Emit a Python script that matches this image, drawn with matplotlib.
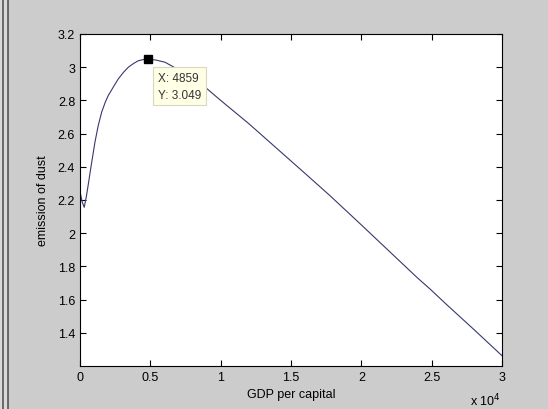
import numpy as np
import matplotlib
matplotlib.use("Agg")
import matplotlib.pyplot as plt
from matplotlib.lines import Line2D
from matplotlib.patches import Rectangle

# GDP per capita vs emission of dust
gdp = np.array([0, 150, 300, 450, 600, 800, 1066, 1300, 1543, 1800, 2014, 2400, 2725,
                3100, 3436, 3800, 4147, 4500, 4859, 5400, 6043, 7000, 8000, 8770,
                10000, 12000, 14000, 16000, 17773, 20000, 22000, 24000, 24882,
                26000, 28000, 30000])
dust = np.array([2.25, 2.19, 2.156, 2.22, 2.30, 2.41, 2.55, 2.65, 2.73, 2.79, 2.83,
                 2.885, 2.93, 2.97, 3.00, 3.022, 3.039, 3.046, 3.049, 3.043, 3.03,
                 2.985, 2.935, 2.889, 2.80, 2.66, 2.51, 2.36, 2.226, 2.05, 1.89,
                 1.73, 1.664, 1.575, 1.42, 1.262])

tip_x, tip_y = 4859, 3.049

xticks = [0, 5000, 10000, 15000, 20000, 25000, 30000]
xlabels = ["0", "0.5", "1", "1.5", "2", "2.5", "3"]
yticks = [1.4, 1.6, 1.8, 2.0, 2.2, 2.4, 2.6, 2.8, 3.0, 3.2]
ylabels = ["1.4", "1.6", "1.8", "2", "2.2", "2.4", "2.6", "2.8", "3", "3.2"]

plt.rcParams["font.family"] = ["Liberation Sans", "DejaVu Sans"]

fig = plt.figure(figsize=(5.48, 4.10), dpi=100, facecolor="#cccccc")
W, H = 548, 410

# window border on the left
fig.add_artist(Rectangle((0, 0), 8 / W, 1, transform=fig.transFigure,
                         facecolor="#d9d9d9", edgecolor="none"))
for px in (2.5, 7.5):
    fig.add_artist(Line2D([px / W, px / W], [0, 1], transform=fig.transFigure,
                          color="#555555", lw=1.2))

ax = fig.add_axes([80 / W, 43 / H, 422 / W, 332 / H])
ax.plot(gdp, dust, color="#38386e", lw=0.8)
ax.plot(tip_x, tip_y, marker="s", color="black", ms=5.5, mec="black")

ax.annotate("X: 4859\nY: 3.049", xy=(tip_x, tip_y), xytext=(7, -9),
            textcoords="offset points", ha="left", va="top", fontsize=8.5,
            color="#333333", linespacing=1.55,
            bbox=dict(boxstyle="square,pad=0.4", fc="#ffffe6", ec="#d8d8c0", lw=0.8))

ax.set_xlim(0, 30000)
ax.set_ylim(1.2, 3.2)
ax.set_xticks(xticks)
ax.set_xticklabels(xlabels)
ax.set_yticks(yticks)
ax.set_yticklabels(ylabels)
ax.tick_params(direction="in", length=4, width=0.8, top=True, right=True,
               labelsize=9, pad=3.5, colors="black")
for s in ax.spines.values():
    s.set_linewidth(0.8)

ax.set_xlabel("GDP per capital", fontsize=9, labelpad=4)
ax.set_ylabel("emission of dust", fontsize=9, labelpad=6)

fig.text(470 / W, 1 - 401 / H, r"x 10$^{4}$", fontsize=9, ha="left", va="center")

fig.savefig("out.png", dpi=100, facecolor=fig.get_facecolor())
